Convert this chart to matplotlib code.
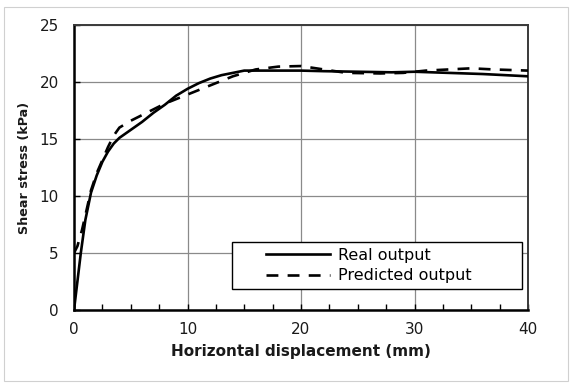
import matplotlib
matplotlib.use("Agg")
import matplotlib.pyplot as plt
from matplotlib.patches import Rectangle
from matplotlib.ticker import MultipleLocator

# Data
real_x = [0, 0.3, 0.6, 1.0, 1.5, 2.0, 2.5, 3.0, 3.5, 4.0, 5.0, 6.0, 7.0, 8.0, 9.0, 10.0,
          11.0, 12.0, 13.0, 14.0, 15.0, 16.0, 18.0, 20.0, 22.0, 25.0, 28.0, 30.0,
          33.0, 36.0, 38.0, 40.0]
real_y = [0, 2.5, 5.0, 7.9, 10.3, 11.8, 13.0, 13.9, 14.6, 15.1, 15.8, 16.5, 17.3, 18.0,
          18.8, 19.4, 19.9, 20.3, 20.6, 20.8, 21.0, 21.0, 21.0, 21.0, 20.95, 20.9,
          20.85, 20.9, 20.8, 20.7, 20.6, 20.5]

pred_x = [0, 0.3, 0.7, 1.0, 1.5, 2.0, 3.0, 3.5, 4.0, 5.0, 6.0, 7.0, 8.0, 9.0, 10.0,
          11.0, 12.0, 13.0, 14.0, 15.0, 16.0, 18.0, 20.0, 22.0, 24.0, 27.0, 29.0,
          31.0, 33.0, 35.0, 37.0, 40.0]
pred_y = [5.0, 5.6, 7.0, 8.3, 10.5, 12.0, 14.3, 15.3, 16.0, 16.6, 17.1, 17.6, 18.1,
          18.5, 18.9, 19.3, 19.7, 20.1, 20.5, 20.8, 21.1, 21.35, 21.4, 21.1, 20.8,
          20.75, 20.8, 21.0, 21.1, 21.2, 21.1, 21.0]

x_ticks = [0, 10, 20, 30, 40]
y_ticks = [0, 5, 10, 15, 20, 25]
labels = ["Real output", "Predicted output"]
x_label = "Horizontal displacement (mm)"
y_label = "Shear stress (kPa)"

plt.rcParams['font.family'] = ['DejaVu Sans']

fig = plt.figure(figsize=(5.72, 3.85), dpi=100)
ax = fig.add_axes([74/572, 1 - 310/385, (528-74)/572, (310-25)/385])

ax.plot(real_x, real_y, color='black', lw=1.9, label=labels[0], zorder=3)
ax.plot(pred_x, pred_y, color='black', lw=1.9, dashes=(4.5, 3.5), label=labels[1], zorder=3)

ax.set_xlim(0, 40)
ax.set_ylim(0, 25)
ax.set_xticks(x_ticks)
ax.set_yticks(y_ticks)
ax.xaxis.set_minor_locator(MultipleLocator(2.5))
ax.grid(True, which='major', color='#8a8a8a', lw=0.9, zorder=0)
ax.set_axisbelow(True)

ax.tick_params(axis='both', which='both', direction='in', colors='black',
               labelcolor='#1a1a1a', labelsize=11)
ax.tick_params(axis='x', which='major', length=4, width=1, pad=9)
ax.tick_params(axis='x', which='minor', length=4, width=1)
ax.tick_params(axis='y', which='major', length=4, width=1, pad=11)

for side in ['left', 'bottom']:
    ax.spines[side].set_color('black')
    ax.spines[side].set_linewidth(1.8)
for side in ['top', 'right']:
    ax.spines[side].set_color('#3a3a3a')
    ax.spines[side].set_linewidth(1.4)

ax.set_xlabel(x_label, fontsize=11, fontweight='bold', color='#1a1a1a', labelpad=5)
ax.set_ylabel(y_label, fontsize=9.2, fontweight='bold', color='#1a1a1a', labelpad=6)

# Legend box (frame drawn separately to match reference padding)
box = Rectangle(((232-74)/454, (310-289)/285), (522-232)/454, (289-242)/285,
                transform=ax.transAxes, facecolor='white', edgecolor='black',
                lw=1.0, zorder=4)
ax.add_patch(box)
leg = ax.legend(loc='center left', bbox_to_anchor=((266-74)/454, (310-265.5)/285),
                fontsize=11.5, handlelength=4.0, handletextpad=0.5,
                borderaxespad=0, borderpad=0, frameon=False, labelspacing=0.35)
leg.set_zorder(5)

fig.patches.append(Rectangle((4/572, 4/385), 564/572, 374/385, transform=fig.transFigure,
                             fill=False, edgecolor='#d0d0d0', lw=0.8))

fig.savefig("out.png", dpi=100)
